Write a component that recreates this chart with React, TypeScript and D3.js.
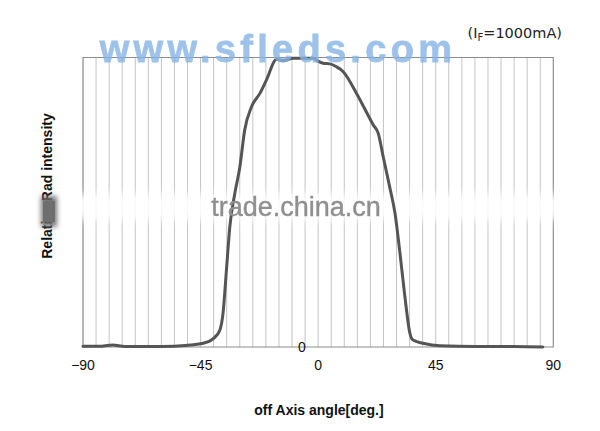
import React from "react";
import * as d3 from "d3";

const angles = [-90, -83, -78.6, -74, -65, -55, -49, -44, -40, -37.6, -36.4, -35.1, -33.8, -31.9, -30, -28.1, -25.5, -22.3, -19.8, -15.9, -13.4, -9.6, -1.9, -0.4, 1.9, 4.5, 7, 9.6, 14.7, 21.1, 23, 24.9, 27.5, 29.4, 31.3, 33.2, 35.1, 36.3, 40.1, 46.6, 60, 75, 86];
const intensity = [0.003, 0.003, 0.007, 0.002, 0.002, 0.003, 0.007, 0.013, 0.03, 0.059, 0.117, 0.266, 0.416, 0.53, 0.62, 0.75, 0.83, 0.876, 0.922, 0.994, 0.989, 0.997, 0.997, 0.989, 0.98, 0.978, 0.968, 0.951, 0.876, 0.767, 0.738, 0.657, 0.548, 0.463, 0.325, 0.174, 0.048, 0.024, 0.013, 0.004, 0.002, 0.002, 0.0];
const xTicks = [-90, -45, 0, 45, 90];
const gridAngles = d3.range(-90, 91, 5);
const yTickLabels = ["0"];
const title = "off Axis angle[deg.]";
const yTitle = "Relative Rad intensity";

export default function App() {
  const W = 600, H = 431;
  const left = 83, right = 553.3, top = 57.5, bottom = 347;
  const x = d3.scaleLinear().domain([-90, 90]).range([left, right]);
  const y = d3.scaleLinear().domain([0, 1]).range([bottom, top]);
  const pts = angles.map((a, i) => [a, intensity[i]] as [number, number]);
  const line = d3.line<[number, number]>().x(d => x(d[0])).y(d => y(d[1])).curve(d3.curveMonotoneX);
  const fmt = d3.format("d");
  return (
    <svg width={W} height={H} style={{ position: "absolute", left: 0, top: 0, background: "#fff" }}>
      <defs>
        <filter id="blur4" x="-20%" y="-100%" width="140%" height="300%">
          <feGaussianBlur stdDeviation="4" />
        </filter>
        <filter id="blur3" x="-100%" y="-50%" width="300%" height="200%">
          <feGaussianBlur stdDeviation="2.5" />
        </filter>
        <filter id="blur05">
          <feGaussianBlur stdDeviation="0.5" />
        </filter>
      </defs>
      <rect x={0} y={0} width={W} height={H} fill="#fff" />
      {gridAngles.map(a => (
        <line key={a} x1={x(a)} x2={x(a)} y1={top} y2={bottom} stroke="#c4c4c4" strokeWidth={1} />
      ))}
      <rect x={left} y={top} width={right - left} height={bottom - top} fill="none" stroke="#8c8c8c" strokeWidth={1} />
      {/* watermark band */}
      <rect x={30} y={194} width={565} height={26} fill="#fff" opacity={0.9} filter="url(#blur4)" />
      <path d={line(pts) || ""} fill="none" stroke="#555" strokeWidth={3} strokeLinejoin="round" strokeLinecap="round" />
      {xTicks.map(t => (
        <text key={t} x={x(t)} y={365} textAnchor="middle" dominantBaseline="central" fontFamily="'Liberation Sans', Arial, sans-serif" fontSize={14} fill="#111">
          {fmt(t)}
        </text>
      ))}
      {yTickLabels.map(t => (
        <text key={t} x={302} y={y(+t)} textAnchor="middle" dominantBaseline="central" fontFamily="'Liberation Sans', Arial, sans-serif" fontSize={14} fill="#111">
          {t}
        </text>
      ))}
      <text x={319} y={410} textAnchor="middle" dominantBaseline="central" fontFamily="'Liberation Sans', Arial, sans-serif" fontWeight="bold" fontSize={14} fill="#111">
        {title}
      </text>
      <text transform="translate(52,186) rotate(-90)" textAnchor="middle" fontFamily="'Liberation Sans', Arial, sans-serif" fontWeight="bold" fontSize={14} fill="#111">
        {yTitle}
      </text>
      <rect x={41} y={196} width={16} height={31} fill="#6a6a6a" opacity={0.9} filter="url(#blur3)" />
      <rect x={43} y={201} width={12} height={21} fill="#6e6e6e" />
      <text x={562} y={33} textAnchor="end" dominantBaseline="central" fontFamily="'DejaVu Sans', Verdana, sans-serif" fontSize={14.5} fill="#222">
        (I<tspan fontSize={10} dy={4}>F</tspan><tspan dy={-4}>=1000mA)</tspan>
      </text>
      <text x={296} y={216} textAnchor="middle" fontFamily="'Liberation Sans', Arial, sans-serif" fontSize={27} fill="#8f8f8f" stroke="#8f8f8f" strokeWidth={0.4} filter="url(#blur05)">
        trade.china.cn
      </text>
      <text x={278} y={62} textAnchor="middle" fontFamily="'Liberation Sans', Arial, sans-serif" fontWeight="bold" fontSize={38} letterSpacing={4.3} fill="#86b4e4" opacity={0.8} stroke="#86b4e4" strokeWidth={0.8}>
        www.sfleds.com
      </text>
    </svg>
  );
}
